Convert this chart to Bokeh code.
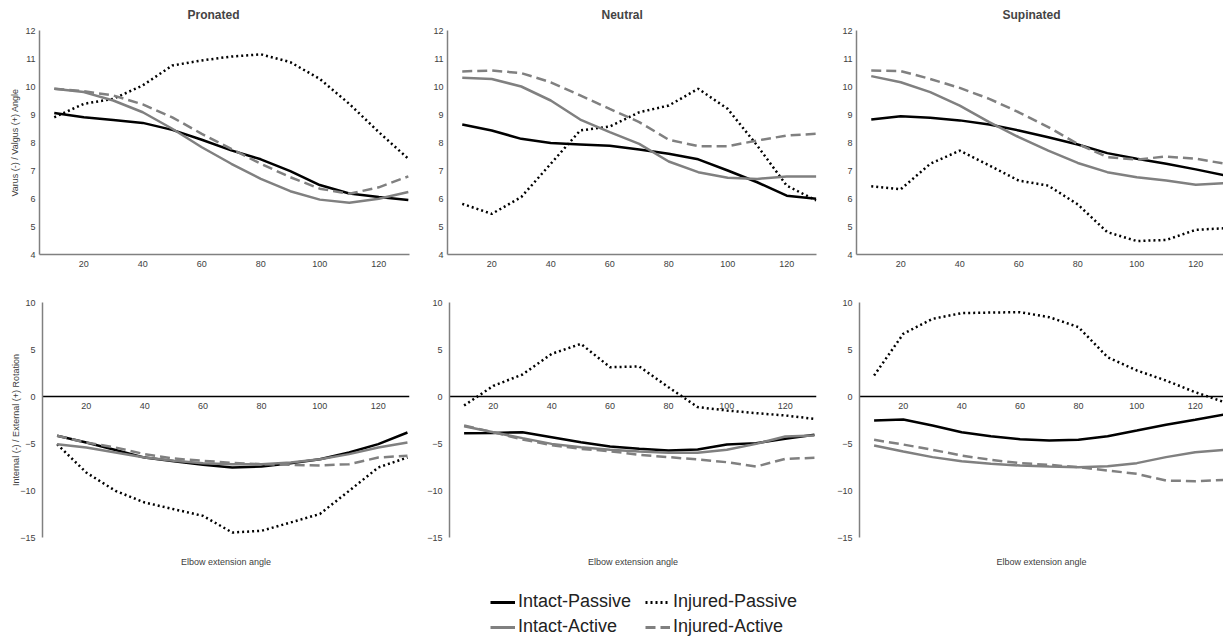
from bokeh.plotting import figure
from bokeh.layouts import column, row
from bokeh.models import Range1d, FixedTicker, LinearAxis, Legend, LegendItem, Title
from bokeh.embed import file_html
from bokeh.resources import INLINE

FONT = "Liberation Sans"

angles = [10, 20, 30, 40, 50, 60, 70, 80, 90, 100, 110, 120, 130]
x_ticks = [20, 40, 60, 80, 100, 120]
vv_ticks = [4, 5, 6, 7, 8, 9, 10, 11, 12]
rot_ticks = [-15, -10, -5, 0, 5, 10]
panel_titles = ["Pronated", "Neutral", "Supinated"]
series_names = ["Intact-Passive", "Injured-Passive", "Intact-Active", "Injured-Active"]

# Varus (-) / Valgus (+) angle
pron_vv_intact_passive = [9.05, 8.9, 8.8, 8.7, 8.45, 8.1, 7.72, 7.4, 6.98, 6.48, 6.18, 6.05, 5.95]
pron_vv_injured_passive = [8.9, 9.38, 9.56, 10.04, 10.75, 10.93, 11.07, 11.15, 10.87, 10.27, 9.38, 8.37, 7.42]
pron_vv_intact_active = [9.92, 9.8, 9.5, 9.08, 8.49, 7.83, 7.24, 6.7, 6.26, 5.96, 5.85, 5.99, 6.23]
pron_vv_injured_active = [9.92, 9.83, 9.68, 9.36, 8.9, 8.31, 7.77, 7.24, 6.76, 6.35, 6.17, 6.4, 6.79]

neut_vv_intact_passive = [8.64, 8.43, 8.13, 7.98, 7.93, 7.88, 7.75, 7.6, 7.4, 7.0, 6.58, 6.1, 5.99]
neut_vv_injured_passive = [5.81, 5.45, 6.05, 7.24, 8.43, 8.57, 9.08, 9.32, 9.92, 9.2, 7.89, 6.46, 5.93]
neut_vv_intact_active = [10.31, 10.27, 10.0, 9.5, 8.82, 8.37, 7.95, 7.32, 6.94, 6.74, 6.7, 6.79, 6.79]
neut_vv_injured_active = [10.54, 10.57, 10.48, 10.15, 9.68, 9.2, 8.73, 8.1, 7.87, 7.87, 8.07, 8.25, 8.31]

sup_vv_intact_passive = [8.82, 8.94, 8.88, 8.79, 8.64, 8.43, 8.19, 7.93, 7.62, 7.42, 7.24, 7.04, 6.82]
sup_vv_injured_passive = [6.44, 6.33, 7.24, 7.71, 7.18, 6.64, 6.46, 5.79, 4.8, 4.48, 4.52, 4.88, 4.94]
sup_vv_intact_active = [10.37, 10.15, 9.8, 9.32, 8.73, 8.19, 7.71, 7.27, 6.94, 6.76, 6.64, 6.49, 6.55]
sup_vv_injured_active = [10.57, 10.55, 10.27, 9.95, 9.56, 9.08, 8.55, 7.95, 7.48, 7.39, 7.5, 7.42, 7.24]

# Internal (-) / External (+) rotation
pron_rot_intact_passive = [-4.18, -4.9, -5.7, -6.5, -6.9, -7.27, -7.55, -7.45, -7.1, -6.67, -5.96, -5.07, -3.83]
pron_rot_injured_passive = [-5.07, -8.09, -10.04, -11.28, -11.99, -12.7, -14.47, -14.29, -13.4, -12.5, -10.04, -7.55, -6.49]
pron_rot_intact_active = [-5.07, -5.43, -5.96, -6.49, -6.84, -7.09, -7.2, -7.2, -7.02, -6.67, -6.13, -5.43, -4.9]
pron_rot_injured_active = [-4.18, -4.9, -5.43, -6.13, -6.6, -6.84, -7.06, -7.2, -7.27, -7.34, -7.2, -6.49, -6.31]

neut_rot_intact_passive = [-3.9, -3.87, -3.8, -4.33, -4.86, -5.32, -5.57, -5.74, -5.64, -5.1, -4.96, -4.5, -4.08]
neut_rot_injured_passive = [-0.96, 1.13, 2.34, 4.54, 5.6, 3.12, 3.19, 0.99, -1.13, -1.49, -1.77, -2.02, -2.38]
neut_rot_intact_active = [-3.16, -3.8, -4.43, -5.04, -5.39, -5.67, -5.85, -5.99, -5.99, -5.67, -5.04, -4.26, -4.15]
neut_rot_injured_active = [-3.09, -3.8, -4.57, -5.18, -5.57, -5.82, -6.2, -6.45, -6.7, -6.99, -7.45, -6.63, -6.52]

sup_rot_intact_passive = [-2.55, -2.45, -3.09, -3.8, -4.22, -4.54, -4.68, -4.61, -4.22, -3.62, -3.01, -2.48, -1.91]
sup_rot_injured_passive = [2.23, 6.67, 8.26, 8.87, 8.93, 8.97, 8.44, 7.38, 4.18, 2.77, 1.7, 0.46, -0.6]
sup_rot_intact_active = [-5.21, -5.85, -6.45, -6.88, -7.16, -7.34, -7.45, -7.52, -7.41, -7.09, -6.45, -5.92, -5.67]
sup_rot_injured_active = [-4.61, -5.11, -5.67, -6.28, -6.74, -7.09, -7.27, -7.52, -7.87, -8.23, -8.94, -9.01, -8.87]

vv_data = [
    [pron_vv_intact_passive, pron_vv_injured_passive, pron_vv_intact_active, pron_vv_injured_active],
    [neut_vv_intact_passive, neut_vv_injured_passive, neut_vv_intact_active, neut_vv_injured_active],
    [sup_vv_intact_passive, sup_vv_injured_passive, sup_vv_intact_active, sup_vv_injured_active],
]
rot_data = [
    [pron_rot_intact_passive, pron_rot_injured_passive, pron_rot_intact_active, pron_rot_injured_active],
    [neut_rot_intact_passive, neut_rot_injured_passive, neut_rot_intact_active, neut_rot_injured_active],
    [sup_rot_intact_passive, sup_rot_injured_passive, sup_rot_intact_active, sup_rot_injured_active],
]

GRAY = "#808080"
styles = [
    dict(line_color="black", line_width=2.5),
    dict(line_color="black", line_width=2.5, line_dash="2 3"),
    dict(line_color=GRAY, line_width=2.5),
    dict(line_color=GRAY, line_width=2.5, line_dash="10 5"),
]


def style_axis(ax, color):
    ax.axis_line_color = color
    ax.axis_line_width = 1.5
    ax.major_tick_line_color = None
    ax.minor_tick_line_color = None
    ax.major_tick_in = 0
    ax.major_tick_out = 0
    ax.minor_tick_in = 0
    ax.minor_tick_out = 0
    ax.major_label_text_font = FONT
    ax.major_label_text_font_size = "9px"
    ax.major_label_text_color = "#404040"
    ax.axis_label_text_font = FONT
    ax.axis_label_text_font_size = "9px"
    ax.axis_label_text_font_style = "normal"
    ax.axis_label_text_color = "#404040"


def add_lines(p, series):
    for ys, st in zip(series, styles):
        p.line(angles, ys, **st)


# geometry per column: (width, left border, right border, x end, title offset from frame left)
top_geo = [(410, 39, 1, 130.4, 148), (408, 37, 2, 130.1, 154), (405, 38, 0, 129.4, 146)]
bot_geo = [(410, 42, 1, 130.7), (408, 39, 2, 130.7), (405, 41, 0, 129.7)]

top_figs = []
for i in range(3):
    w, bl, br, xe, toff = top_geo[i]
    p = figure(width=w, height=280, x_range=Range1d(5, xe), y_range=Range1d(4, 12),
               output_backend="svg", toolbar_location=None,
               min_border_left=bl, min_border_right=br, min_border_top=30, min_border_bottom=26)
    p.grid.visible = False
    p.outline_line_color = None
    p.title.text = panel_titles[i]
    p.title.align = "left"
    p.title.offset = toff
    p.title.vertical_align = "top"
    p.title.standoff = 13
    p.title.text_font = FONT
    p.title.text_font_size = "12px"
    p.title.text_font_style = "bold"
    p.xaxis.ticker = FixedTicker(ticks=x_ticks)
    p.yaxis.ticker = FixedTicker(ticks=vv_ticks)
    for ax in p.xaxis + p.yaxis:
        style_axis(ax, GRAY)
    p.xaxis.major_label_standoff = 6
    p.yaxis.major_label_standoff = 4
    if i == 0:
        p.yaxis.axis_label = "Varus (-) / Valgus (+) Angle"
        p.yaxis.axis_label_standoff = 2
    add_lines(p, vv_data[i])
    top_figs.append(p)

bot_figs = []
for i in range(3):
    w, bl, br, xe = bot_geo[i]
    p = figure(width=w, height=310, x_range=Range1d(5, xe), y_range=Range1d(-15, 10),
               output_backend="svg", toolbar_location=None, x_axis_location=None,
               min_border_left=bl, min_border_right=br, min_border_top=22, min_border_bottom=53)
    p.grid.visible = False
    p.outline_line_color = None
    xa = LinearAxis(fixed_location=0, ticker=FixedTicker(ticks=x_ticks))
    p.add_layout(xa, "below")
    style_axis(xa, "black")
    xa.axis_line_width = 1.3
    xa.major_label_standoff = 6
    p.yaxis.ticker = FixedTicker(ticks=rot_ticks)
    for ax in p.yaxis:
        style_axis(ax, GRAY)
    p.yaxis.major_label_standoff = 7
    if i == 0:
        p.yaxis.axis_label = "Internal (-) / External (+) Rotation"
        p.yaxis.axis_label_standoff = -4
    p.add_layout(Title(text="Elbow extension angle", align="center", text_font=FONT,
                       text_font_size="9px", text_font_style="normal", text_color="#404040",
                       vertical_align="top", standoff=39), "below")
    add_lines(p, rot_data[i])
    bot_figs.append(p)

# legend strip
lf = figure(width=1223, height=48, x_range=Range1d(-100, -99), y_range=Range1d(-100, -99),
            output_backend="svg", toolbar_location=None, x_axis_location=None, y_axis_location=None,
            min_border=0)
lf.grid.visible = False
lf.outline_line_color = None
lrs = []
for ys, st in zip(rot_data[0], styles):
    st2 = dict(st)
    st2["line_width"] = 3
    lrs.append(lf.line(angles, ys, **st2))
legend = Legend(items=[LegendItem(label=series_names[k], renderers=[lrs[k]]) for k in range(4)],
                location=(490, 1), orientation="horizontal", ncols=2, padding=0, margin=0,
                spacing=4, glyph_width=25, glyph_height=20, label_standoff=3, label_width=123,
                label_text_font=FONT, label_text_font_size="18px", label_text_color="#222222",
                border_line_color=None, background_fill_alpha=0)
lf.add_layout(legend)

layout = column(row(*top_figs), row(*bot_figs), lf)
open("out.html", "w").write(file_html(layout, INLINE))
